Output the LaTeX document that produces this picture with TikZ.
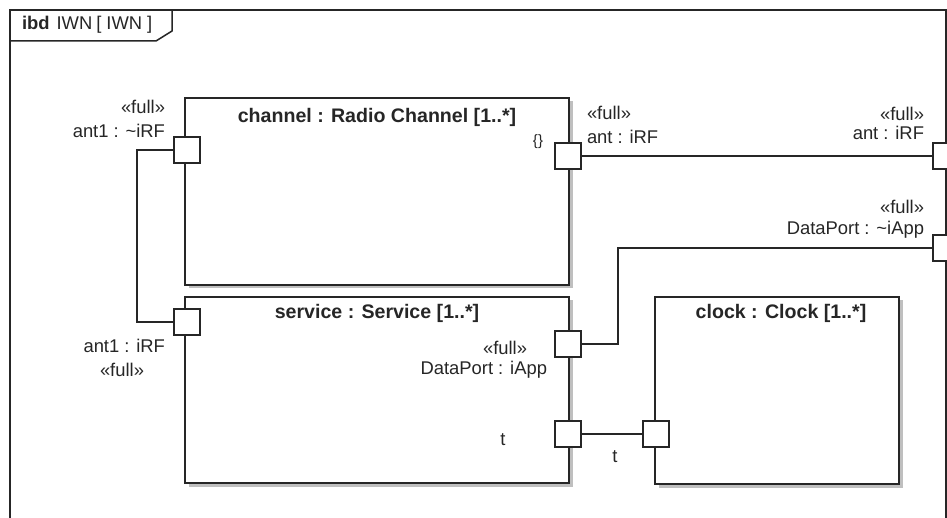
\documentclass[tikz,border=0pt]{standalone}
\usepackage{fontspec}
\setmainfont{Liberation Sans}
\usetikzlibrary{shadows}
\begin{document}
\begin{tikzpicture}[x=1pt,y=-1pt,
  every node/.style={inner sep=0pt, outer sep=0pt, text=black!85},
  lbl/.style={font=\fontsize{18.4}{21}\selectfont},
  ttl/.style={font=\fontsize{19.6}{22}\selectfont\bfseries},
  ln/.style={line width=1.5pt, draw=black!85},
  part/.style={rectangle, draw=black!85, line width=1.5pt, fill=white,
    drop shadow={shadow xshift=3.5pt, shadow yshift=-3.5pt, fill=black!25, opacity=1}},
  port/.style={rectangle, draw=black!85, line width=1.5pt, fill=white,
    minimum width=26pt, minimum height=26pt}]
\clip (0,0) rectangle (947,518);
\fill[white] (0,0) rectangle (947,518);
% frame
\draw[ln] (10,540) -- (10,10) -- (946,10) -- (946,540);
\draw[ln] (10,41) -- (156,41) -- (172,31) -- (172,10);
\node[anchor=west, lbl] (ftitle) at (22,25) {\textbf{ibd}\hspace{7pt}IWN\hspace{4pt}[\hspace{5pt}IWN\hspace{5pt}]};
% parts
\node[part, minimum width=384pt, minimum height=187pt] (ch) at (377,191.5) {};
\node[part, minimum width=384pt, minimum height=186pt] (sv) at (377,390) {};
\node[part, minimum width=244pt, minimum height=187pt] (ck) at (777,390.5) {};
\node[ttl] (chT) at (377,117) {channel : Radio Channel [1..*]};
\node[ttl] (svT) at (377,313) {service : Service [1..*]};
\node[ttl] (ckT) at (781,313) {clock : Clock [1..*]};
\node[lbl, font=\fontsize{15}{17}\selectfont] (chB) at (538,142) {\{\}};
% ports
\node[port] (pCh1) at (187,150) {};
\node[port] (pCh2) at (568,156) {};
\node[port] (pSv1) at (187,322) {};
\node[port] (pSv2) at (568,344) {};
\node[port] (pSvT) at (568,434) {};
\node[port] (pCk) at (656,434) {};
\node[port] (pFrA) at (946,156) {};
\node[port] (pFrD) at (946,248) {};
% connectors
\draw[ln] (pCh1.west) -- (137,150) |- (pSv1.west);
\draw[ln] (pCh2.east) -- (pFrA.west);
\draw[ln] (pSv2.east) -- (618,344) |- (pFrD.west);
\draw[ln] (pSvT.east) -- (pCk.west);
% port labels
\node[lbl, anchor=east] (l1) at (165,107) {«full»};
\node[lbl, anchor=east] (l2) at (165,131) {ant1 : \textasciitilde iRF};
\node[lbl, anchor=west] (l3) at (587,113) {«full»};
\node[lbl, anchor=west] (l4) at (587,137) {ant : iRF};
\node[lbl, anchor=east] (l5) at (924,114) {«full»};
\node[lbl, anchor=east] (l6) at (924,133) {ant : iRF};
\node[lbl, anchor=east] (l7) at (924,207) {«full»};
\node[lbl, anchor=east] (l8) at (924,230) {DataPort : \textasciitilde iApp};
\node[lbl, anchor=east] (l9) at (165,346) {ant1 : iRF};
\node[lbl] (l10) at (122,370) {«full»};
\node[lbl, anchor=east] (l11) at (527,348) {«full»};
\node[lbl, anchor=east] (l12) at (547,370) {DataPort : iApp};
\node[lbl] (l13) at (503,440) {t};
\node[lbl] (l14) at (615,457) {t};
\end{tikzpicture}
\end{document}
